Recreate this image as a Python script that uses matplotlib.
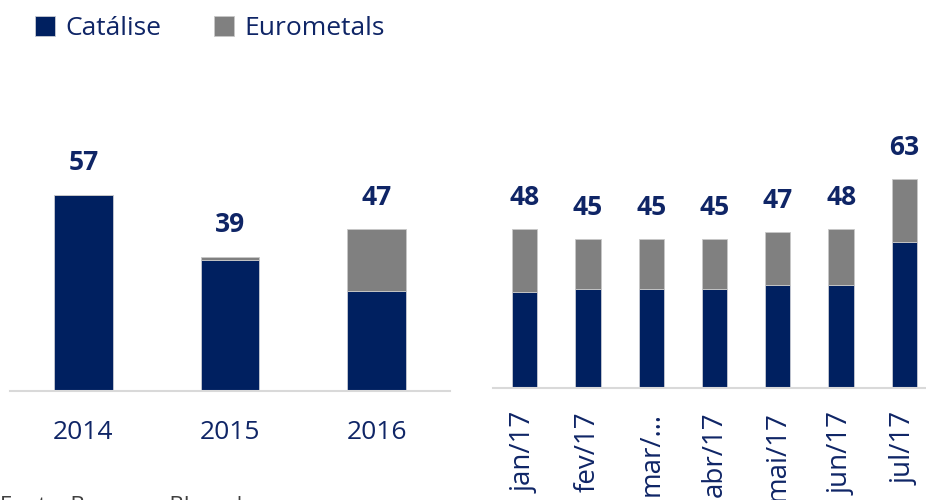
import matplotlib.pyplot as plt

years = ['2014', '2015', '2016']
cat_years = [57, 38, 29]
euro_years = [0, 1, 18]
tot_years = [57, 39, 47]

months = ['jan/17', 'fev/17', 'mar/…', 'abr/17', 'mai/17', 'jun/17', 'jul/17']
cat_months = [29, 30, 30, 30, 31, 31, 44]
euro_months = [19, 15, 15, 15, 16, 17, 19]
tot_months = [48, 45, 45, 45, 47, 48, 63]

NAVY = '#002060'
GRAY = '#808080'
TXT = '#0f2566'

plt.rcParams['font.family'] = ['Open Sans', 'DejaVu Sans']


def draw(ax, labels, cat, euro, tot, width):
    x = range(len(labels))
    b1 = ax.bar(x, cat, width, color=NAVY, edgecolor='#c8cbd4', linewidth=0.6)
    b2 = ax.bar(x, euro, width, bottom=cat, color=GRAY, edgecolor='#c8c8c8', linewidth=0.6)
    for i, t in enumerate(tot):
        ax.annotate(str(t), (i, t), xytext=(0, 23), textcoords='offset points',
                    ha='center', va='center', fontsize=19, fontweight='bold', color=TXT)
    ax.set_xticks(list(x))
    ax.set_xlim(-0.5, len(labels) - 0.5)
    for s in ['top', 'right', 'left']:
        ax.spines[s].set_visible(False)
    ax.spines['bottom'].set_color('#d9d9d9')
    ax.spines['bottom'].set_linewidth(1.5)
    ax.set_yticks([])
    ax.tick_params(axis='x', length=0, labelcolor=TXT)
    return b1, b2


fig = plt.figure(figsize=(9.26, 5.0), dpi=100)

# left panel: yearly
ax1 = fig.add_axes([10 / 926, 109 / 500, 440 / 926, 60 * 3.44 / 500])
b1, b2 = draw(ax1, years, cat_years, euro_years, tot_years, 0.4)
ax1.set_ylim(0, 60)
ax1.set_xticklabels(years)
ax1.tick_params(axis='x', pad=21, labelsize=19)

# right panel: monthly
ax2 = fig.add_axes([493 / 926, 112 / 500, 443 / 926, 70 * 3.31 / 500])
draw(ax2, months, cat_months, euro_months, tot_months, 0.4)
ax2.set_ylim(0, 70)
ax2.set_xticklabels(months, rotation=90)
ax2.tick_params(axis='x', pad=17, labelsize=20)

fig.legend([b1, b2], ['Catálise', 'Eurometals'], loc='upper left',
           bbox_to_anchor=(0.012, 1.015), ncol=2, frameon=False, fontsize=19,
           handlelength=0.75, handleheight=0.75, handletextpad=0.4,
           columnspacing=2.0, labelcolor=TXT)

# source note, mostly below the bottom edge as in the original
fig.text(0.0, -12 / 500, 'Fonte: Bancos e Bloomberg', fontsize=16, color='#404040',
         ha='left', va='baseline')

fig.savefig('out.png', dpi=100)
